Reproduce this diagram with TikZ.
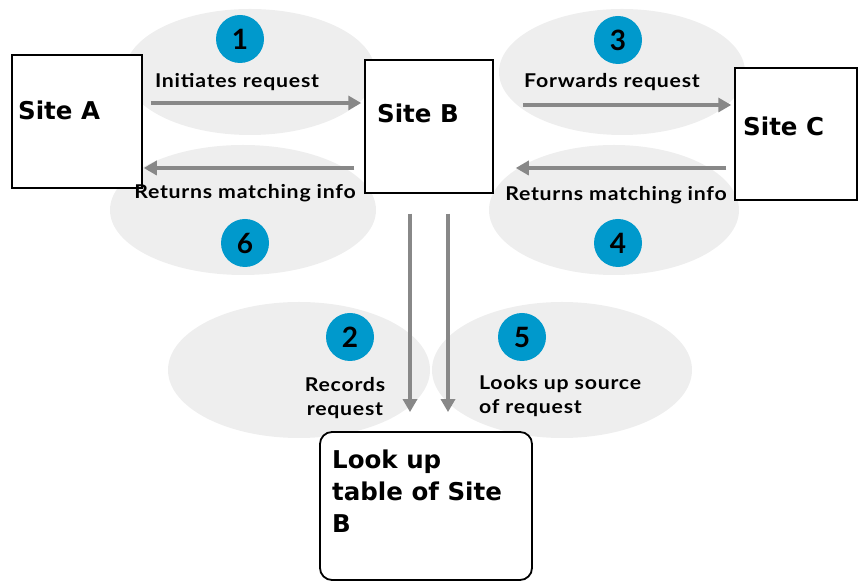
\documentclass[tikz,border=0pt]{standalone}
\usepackage{fontspec}
\setmainfont{DejaVu Sans}
\newfontfamily\labfont[FakeStretch=1.12,LetterSpace=4]{Lato}
\newfontfamily\numfont{Lato}
\newfontfamily\boxfont{DejaVu Sans}
\usetikzlibrary{arrows.meta}
\definecolor{ellgray}{RGB}{238,238,238}
\definecolor{stepblue}{RGB}{0,153,204}
\definecolor{flowgray}{RGB}{136,136,136}
\tikzset{
  blob/.style={fill=ellgray, draw=none},
  numdot/.style={circle, fill=stepblue, minimum size=48pt, inner sep=0pt, font=\numfont\bfseries\fontsize{28}{28}\selectfont},
  sitebox/.style={draw=black, line width=1.5pt, fill=white, inner sep=0pt},
  sitetext/.style={anchor=west, inner sep=0pt, font=\boxfont\bfseries\fontsize{24.5}{24.5}\selectfont},
  lab/.style={inner sep=0pt, font=\labfont\bfseries\fontsize{19}{24}\selectfont},
  flow/.style={draw=flowgray, line width=3.5pt, -{Triangle[length=13pt,width=14pt]}},
}
\begin{document}
\begin{tikzpicture}[x=1pt,y=1pt]
\useasboundingbox (0,0) rectangle (859,583);
% background blobs
\fill[blob] (250,511) ellipse [x radius=125, y radius=63];
\fill[blob] (243,373) ellipse [x radius=133, y radius=65];
\fill[blob] (622,511) ellipse [x radius=123, y radius=63];
\fill[blob] (614,373) ellipse [x radius=125, y radius=65];
\fill[blob] (299,213) ellipse [x radius=131, y radius=68];
\fill[blob] (562,213) ellipse [x radius=130, y radius=68];
% boxes
\node[sitebox, minimum width=130pt, minimum height=133pt] (A) at (77,461.5) {};
\node[sitebox, minimum width=128pt, minimum height=133pt] (B) at (429,456.5) {};
\node[sitebox, minimum width=122pt, minimum height=132pt] (C) at (796,449) {};
\node[sitebox, rounded corners=12pt, line width=1.8pt, minimum width=212pt, minimum height=148pt] (L) at (426,77) {};
\node[sitetext] (tA) at (18,473) {Site A};
\node[sitetext] (tB) at (377,470) {Site B};
\node[sitetext] (tC) at (743,457) {Site C};
\node[sitetext, anchor=north west, align=left, font=\boxfont\bfseries\fontsize{24.5}{32}\selectfont] (tL) at (332,133) {Look up\\table of Site\\B};
% number circles
\node[numdot] (n1) at (240,544) {1};
\node[numdot] (n3) at (618,543) {3};
\node[numdot] (n6) at (245,340) {6};
\node[numdot] (n4) at (618,340) {4};
\node[numdot] (n2) at (350,246) {2};
\node[numdot] (n5) at (522,246) {5};
% arrows
\coordinate (r1) at (0,480);
\coordinate (r6) at (0,415);
\coordinate (r3) at (0,478);
\coordinate (r4) at (0,415);
\coordinate (v2) at (410,0);
\coordinate (v5) at (448,0);
\draw[flow, shorten <=8pt, shorten >=3pt] (A.east |- r1) -- (B.west |- r1);
\draw[flow, shorten <=10pt, shorten >=1pt] (B.west |- r6) -- (A.east |- r6);
\draw[flow, shorten <=29pt, shorten >=3pt] (B.east |- r3) -- (C.west |- r3);
\draw[flow, shorten <=8pt, shorten >=22pt] (C.west |- r4) -- (B.east |- r4);
\draw[flow, shorten <=20pt, shorten >=19pt] (B.south -| v2) -- (L.north -| v2);
\draw[flow, shorten <=20pt, shorten >=19pt] (B.south -| v5) -- (L.north -| v5);
% labels
\node[lab] (l1) at (237,501) {Initiates request};
\node[lab] (l6) at (245,390) {Returns matching info};
\node[lab] (l3) at (612,501) {Forwards request};
\node[lab] (l4) at (616,388) {Returns matching info};
\node[lab, align=center] (l2) at (345,185) {Records\\request};
\node[lab, align=left, anchor=west] (l5) at (479,187) {Looks up source\\of request};
\end{tikzpicture}
\end{document}
